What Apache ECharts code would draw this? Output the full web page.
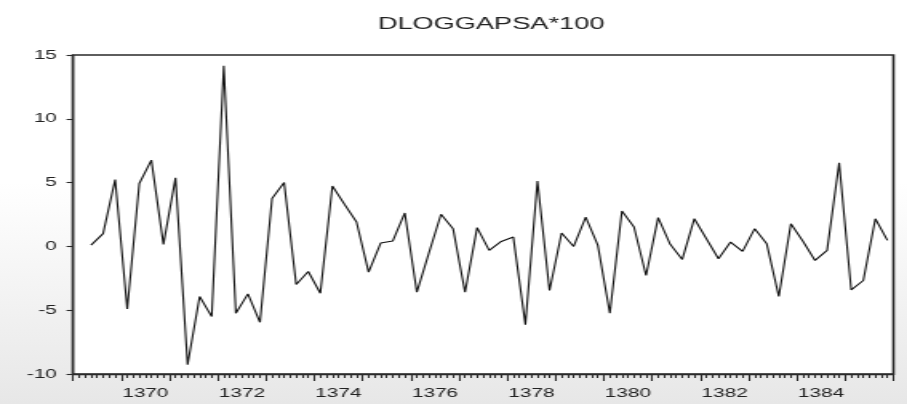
<!DOCTYPE html>
<html>
<head>
<meta charset="utf-8">
<script src="https://cdn.jsdelivr.net/npm/echarts@6/dist/echarts.min.js"></script>
<style>
  html, body { margin: 0; padding: 0; overflow: hidden; width: 907px; height: 404px;
    background: linear-gradient(to bottom, #ffffff 0%, #ffffff 45%, #e7e7e7 100%); }
  #chart { width: 567px; height: 404px; transform: scaleX(1.59965); transform-origin: 0 0; }
</style>
</head>
<body>
<div id="chart"></div>
<script>
// Quarterly series, first observation 1369Q2, last 1385Q4
const startYear = 1369;
const startQuarter = 2;
const titleText = 'DLOGGAPSA*100';
const values = [
  0.1, 1.0, 5.24, -4.9, 4.93, 6.76, 0.16, 5.37, -9.28, -3.93,
  -5.5, 14.15, -5.24, -3.72, -5.95, 3.75, 5.0, -2.99, -1.97, -3.67,
  4.74, 3.3, 1.91, -2.02, 0.26, 0.42, 2.62, -3.59, -0.5, 2.52,
  1.39, -3.59, 1.47, -0.31, 0.39, 0.73, -6.13, 5.13, -3.46, 1.05,
  0.0, 2.3, 0.1, -5.24, 2.78, 1.52, -2.28, 2.25, 0.16, -1.02,
  2.17, 0.6, -0.97, 0.34, -0.39, 1.39, 0.2, -3.93, 1.78, 0.4,
  -1.1, -0.31, 6.55, -3.41, -2.67, 2.17, 0.47
];
const yearLabels = ['1370', '1372', '1374', '1376', '1378', '1380', '1382', '1384'];
const yTicks = [-10, -5, 0, 5, 10, 15];

// x in quarter units from the start of 1369 (centre of each quarter)
const periods = values.map((v, i) => {
  const qi = (startQuarter - 1) + i;
  return { year: startYear + Math.floor(qi / 4), quarter: (qi % 4) + 1 };
});
const seriesData = periods.map((p, i) => [(p.year - startYear) * 4 + (p.quarter - 1) + 0.5, values[i]]);
// label positions: middle of the labelled year
const labelPos = yearLabels.map(y => (Number(y) - startYear) * 4 + 2);

const font = 'Liberation Sans, Arial, sans-serif';
const frameColor = '#2a2a2a';
const chart = echarts.init(document.getElementById('chart'));
chart.setOption({
  animation: false,
  backgroundColor: 'transparent',
  title: {
    text: titleText, left: 302, top: 11, textAlign: 'center',
    textStyle: { fontFamily: font, fontSize: 17, fontWeight: 'normal', color: '#222' }
  },
  grid: {
    left: 45.6, right: 8.5, top: 55, bottom: 30,
    show: true, backgroundColor: '#ffffff', borderColor: frameColor, borderWidth: 1.6
  },
  xAxis: [
    {
      type: 'value', min: 0, max: 68, interval: 4, position: 'bottom',
      axisLine: { show: true, onZero: false, lineStyle: { color: frameColor, width: 1.4 } },
      axisTick: { show: true, inside: false, length: 7, lineStyle: { color: frameColor, width: 1.1 } },
      minorTick: { show: true, splitNumber: 8, length: 4, lineStyle: { color: frameColor, width: 1.1 } },
      axisLabel: { show: false },
      splitLine: { show: false }
    },
    {
      type: 'value', min: 0, max: 68, interval: 2, position: 'bottom',
      axisLine: { show: false, onZero: false }, axisTick: { show: false }, splitLine: { show: false },
      axisLabel: {
        show: true, margin: 13, fontFamily: font, fontSize: 13, color: '#222',
        formatter: v => { const k = labelPos.indexOf(v); return k >= 0 ? yearLabels[k] : ''; }
      }
    }
  ],
  yAxis: {
    type: 'value', min: yTicks[0], max: yTicks[yTicks.length - 1], interval: 5, position: 'left',
    axisLine: { show: true, onZero: false, lineStyle: { color: frameColor, width: 1.2 } },
    axisTick: { show: true, inside: false, length: 4, lineStyle: { color: frameColor, width: 1.1 } },
    axisLabel: { margin: 10, fontFamily: font, fontSize: 13, color: '#222' },
    splitLine: { show: false }
  },
  series: [{
    type: 'line', xAxisIndex: 0, yAxisIndex: 0, data: seriesData, symbol: 'none',
    lineStyle: { color: '#111', width: 1.1 }
  }]
});
</script>
</body>
</html>
